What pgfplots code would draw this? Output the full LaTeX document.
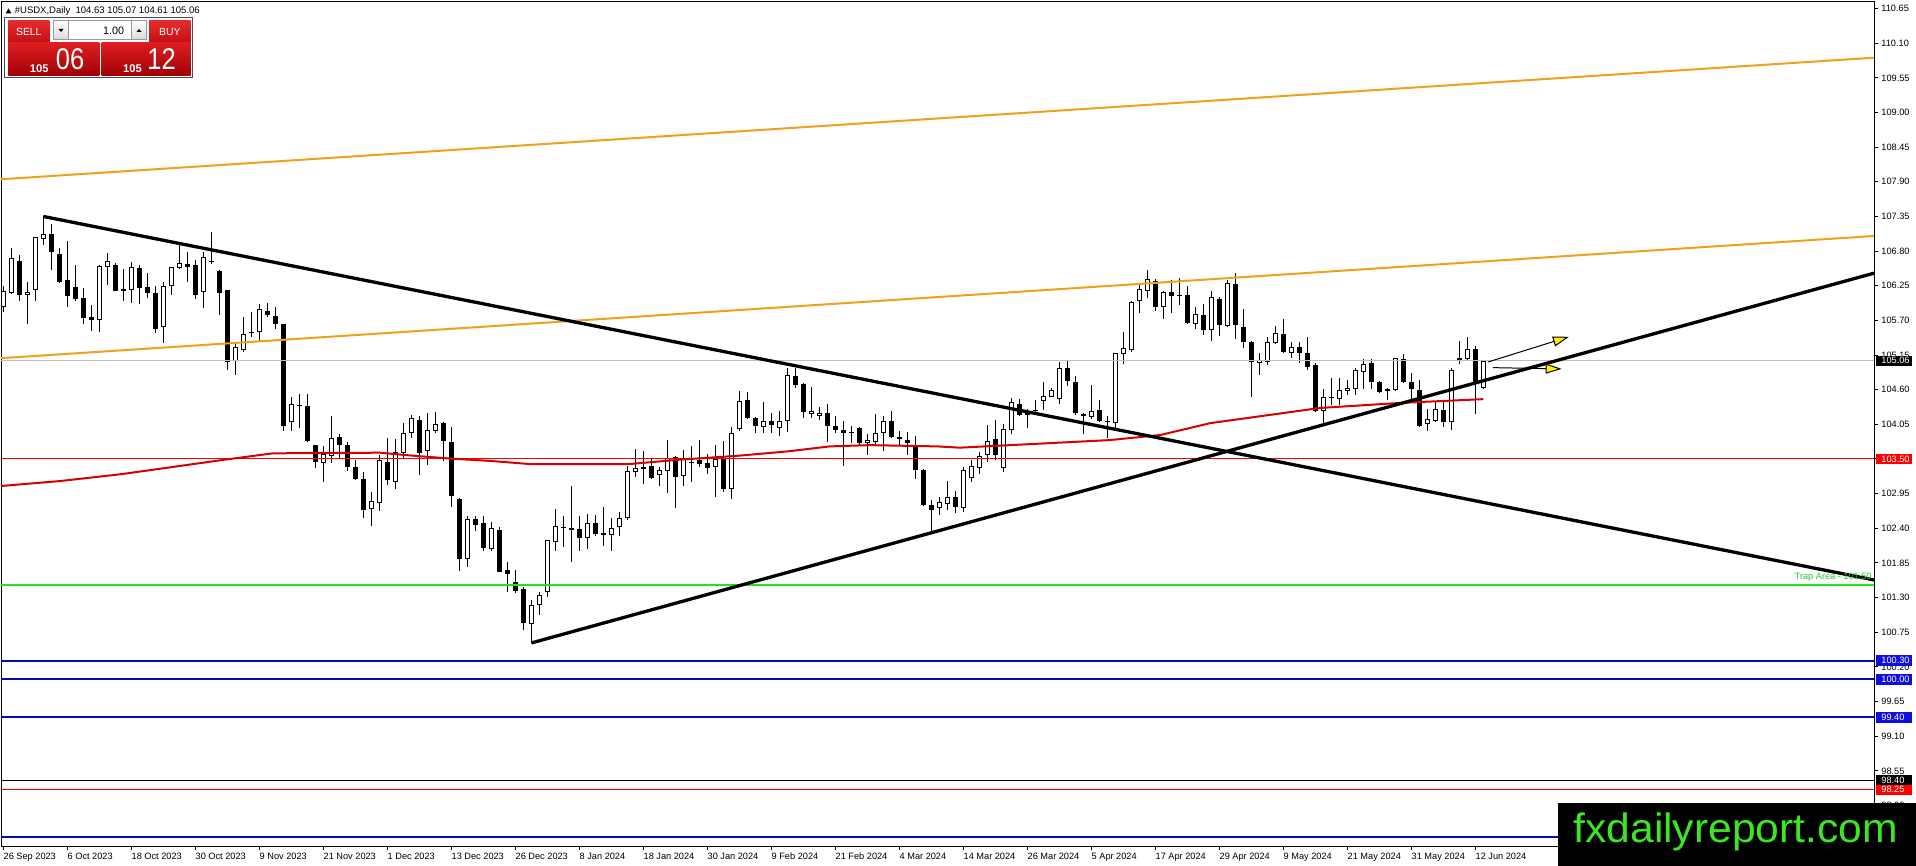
\documentclass[border=0pt]{standalone}
\usepackage{fontspec}
\setmainfont{Liberation Sans}
\usepackage{pgfplots}
\pgfplotsset{compat=1.18}
\usepackage{pgfplotstable}
\usetikzlibrary{arrows.meta}
\definecolor{mtorange}{RGB}{240,160,30}
\definecolor{mtma}{RGB}{215,0,0}
\definecolor{mtred}{RGB}{255,0,0}
\definecolor{mtblue}{RGB}{0,10,175}
\definecolor{boxblue}{RGB}{15,15,220}
\definecolor{mtgreen}{RGB}{30,230,30}
\definecolor{trapgreen}{RGB}{40,200,40}
\definecolor{logogreen}{RGB}{60,230,35}
\definecolor{bidgray}{RGB}{190,190,190}
\definecolor{btntop}{RGB}{228,45,45}
\definecolor{btnbot}{RGB}{195,15,20}
\definecolor{bigtop}{RGB}{222,30,32}
\definecolor{bigbot}{RGB}{160,0,8}
\newcommand\mtfont{\fontsize{4.6pt}{5pt}\selectfont}

\pgfplotstableread{
i o h l c
0 105.92 106.25 105.84 106.17
1 106.14 106.85 106.12 106.69
2 106.64 106.74 106.00 106.11
3 106.11 106.31 105.64 106.15
4 106.18 107.03 106.01 107.02
5 106.99 107.35 106.89 107.07
6 107.07 107.23 106.50 106.78
7 106.75 106.85 106.30 106.31
8 106.34 106.96 105.92 106.08
9 106.23 106.58 106.00 106.04
10 106.05 106.21 105.64 105.74
11 105.75 105.94 105.53 105.70
12 105.70 106.58 105.51 106.56
13 106.54 106.77 106.26 106.65
14 106.58 106.61 106.16 106.17
15 106.20 106.52 106.00 106.16
16 106.18 106.62 105.97 106.55
17 106.53 106.58 105.96 106.21
18 106.23 106.45 106.05 106.14
19 106.13 106.24 105.50 105.57
20 105.59 106.31 105.34 106.25
21 106.25 106.55 106.11 106.55
22 106.53 106.91 106.52 106.61
23 106.59 106.78 106.31 106.55
24 106.58 106.66 106.04 106.11
25 106.15 106.79 105.89 106.70
26 106.65 107.11 106.59 106.63
27 106.48 106.50 105.79 106.13
28 106.18 106.19 104.91 105.04
29 105.06 105.33 104.83 105.27
30 105.23 105.76 105.20 105.48
31 105.50 105.84 105.44 105.52
32 105.51 105.96 105.38 105.88
33 105.85 105.98 105.76 105.78
34 105.77 105.92 105.56 105.65
35 105.64 105.65 103.95 104.03
36 104.08 104.48 103.95 104.37
37 104.34 104.53 103.99 104.35
38 104.34 104.53 103.77 103.79
39 103.72 103.73 103.35 103.46
40 103.43 103.70 103.14 103.58
41 103.55 104.18 103.43 103.84
42 103.85 103.89 103.51 103.73
43 103.72 103.77 103.31 103.38
44 103.37 103.48 103.16 103.18
45 103.18 103.29 102.57 102.69
46 102.70 102.97 102.43 102.83
47 102.80 103.56 102.68 103.48
48 103.45 103.83 103.08 103.16
49 103.14 103.81 103.02 103.61
50 103.60 104.07 103.51 103.92
51 103.92 104.20 103.84 104.15
52 104.12 104.19 103.24 103.60
53 103.62 104.23 103.41 103.96
54 103.95 104.24 103.91 104.06
55 104.07 104.08 103.47 103.79
56 103.77 104.01 102.74 102.92
57 102.87 102.88 101.73 101.91
58 101.91 102.60 101.79 102.55
59 102.55 102.60 102.35 102.46
60 102.48 102.59 102.04 102.08
61 102.07 102.50 102.04 102.40
62 102.37 102.42 101.70 101.71
63 101.74 101.86 101.39 101.67
64 101.54 101.74 101.37 101.41
65 101.44 101.47 100.78 100.90
66 100.88 101.26 100.58 101.19
67 101.19 101.39 101.03 101.34
68 101.39 102.22 101.31 102.21
69 102.19 102.70 102.04 102.43
70 102.40 102.60 102.11 102.42
71 102.37 103.07 101.87 102.40
72 102.39 102.60 102.04 102.25
73 102.24 102.62 102.07 102.48
74 102.48 102.61 102.28 102.31
75 102.33 102.74 102.12 102.29
76 102.29 102.57 102.04 102.40
77 102.42 102.66 102.27 102.56
78 102.56 103.39 102.53 103.31
79 103.29 103.66 103.22 103.36
80 103.34 103.62 103.10 103.37
81 103.39 103.51 103.19 103.20
82 103.24 103.38 103.07 103.33
83 103.31 103.80 102.96 103.51
84 103.53 103.54 102.73 103.22
85 103.23 103.65 103.07 103.50
86 103.43 103.71 103.14 103.45
87 103.48 103.80 103.37 103.42
88 103.44 103.58 103.26 103.36
89 103.38 103.72 102.90 103.50
90 103.52 103.79 102.98 103.02
91 103.03 104.01 102.86 103.92
92 103.97 104.58 103.94 104.42
93 104.44 104.56 104.14 104.15
94 104.15 104.16 103.91 104.03
95 104.00 104.40 103.92 104.11
96 104.11 104.23 103.92 104.04
97 103.99 104.26 103.87 104.11
98 104.10 104.94 103.93 104.84
99 104.82 104.94 104.63 104.67
100 104.69 104.70 104.15 104.24
101 104.22 104.64 104.15 104.26
102 104.19 104.33 104.12 104.23
103 104.23 104.38 103.77 104.03
104 104.02 104.18 103.91 103.96
105 103.96 104.10 103.39 103.91
106 103.93 104.02 103.75 103.92
107 103.99 104.00 103.72 103.75
108 103.76 103.90 103.57 103.80
109 103.77 104.21 103.72 103.91
110 103.91 104.18 103.62 104.10
111 104.11 104.26 103.83 103.85
112 103.85 103.94 103.73 103.81
113 103.80 103.93 103.56 103.75
114 103.73 103.87 103.18 103.33
115 103.33 103.34 102.76 102.77
116 102.77 102.85 102.34 102.69
117 102.72 102.89 102.61 102.81
118 102.78 103.15 102.69 102.89
119 102.89 102.99 102.64 102.74
120 102.73 103.38 102.66 103.33
121 103.20 103.48 103.14 103.39
122 103.36 103.61 103.26 103.55
123 103.56 104.04 103.45 103.79
124 103.81 104.12 103.48 103.56
125 103.35 104.05 103.30 103.98
126 103.96 104.47 103.89 104.40
127 104.37 104.45 104.18 104.20
128 104.26 104.29 103.99 104.20
129 104.27 104.44 104.25 104.26
130 104.42 104.72 104.28 104.50
131 104.49 104.62 104.48 104.60
132 104.45 105.04 104.38 104.94
133 104.94 105.07 104.66 104.74
134 104.73 104.81 104.20 104.23
135 104.21 104.23 103.89 104.19
136 104.17 104.67 104.13 104.26
137 104.28 104.43 104.09 104.11
138 104.11 104.18 103.84 104.09
139 104.07 105.19 103.96 105.18
140 105.16 105.51 105.00 105.26
141 105.23 106.00 105.20 105.99
142 106.00 106.27 105.81 106.20
143 106.17 106.50 106.05 106.35
144 106.33 106.35 105.85 105.92
145 105.91 106.16 105.72 106.15
146 106.15 106.34 105.82 106.09
147 106.09 106.38 105.94 106.11
148 106.10 106.24 105.65 105.66
149 105.65 105.92 105.56 105.80
150 105.79 105.96 105.47 105.55
151 105.54 106.16 105.38 106.07
152 106.04 106.07 105.45 105.63
153 105.61 106.34 105.59 106.30
154 106.28 106.46 105.40 105.62
155 105.59 105.88 105.26 105.36
156 105.36 105.37 104.49 105.04
157 105.02 105.18 104.83 105.07
158 105.04 105.43 104.99 105.35
159 105.34 105.61 105.33 105.50
160 105.48 105.72 105.19 105.20
161 105.19 105.36 105.11 105.28
162 105.27 105.36 105.03 105.19
163 105.18 105.43 104.92 104.96
164 104.99 105.03 104.24 104.26
165 104.26 104.61 104.04 104.48
166 104.47 104.78 104.36 104.49
167 104.46 104.78 104.36 104.60
168 104.58 104.75 104.52 104.62
169 104.61 104.94 104.52 104.91
170 104.88 105.08 104.61 105.00
171 105.02 105.09 104.61 104.73
172 104.72 104.74 104.54 104.56
173 104.58 104.63 104.43 104.61
174 104.60 105.11 104.58 105.10
175 105.08 105.16 104.71 104.73
176 104.72 104.87 104.46 104.61
177 104.60 104.75 104.01 104.03
178 104.05 104.30 103.95 104.13
179 104.11 104.41 104.09 104.29
180 104.28 104.43 104.01 104.08
181 104.09 104.94 103.96 104.91
182 105.07 105.38 105.01 105.10
183 105.08 105.43 105.07 105.24
184 105.24 105.29 104.21 104.69
185 104.63 105.07 104.61 105.06
}\ohlc

\begin{document}
\begin{tikzpicture}
\useasboundingbox (0,0) rectangle (958pt,-433pt);
\fill[white] (0,0) rectangle (958pt,-433pt);
\begin{axis}[
  at={(0.5pt,-1pt)}, anchor=north west,
  width=936.5pt, height=422pt, scale only axis,
  xmin=-0.2875, xmax=233.84, ymin=97.357, ymax=110.754,
  axis line style={black, line width=0.5pt},
  tick align=outside, major tick length=2pt,
  tick style={black, line width=0.5pt},
  xtick pos=bottom, ytick pos=right, yticklabel pos=right,
  xtick={0,8,...,184},
  xticklabels={26 Sep 2023,6 Oct 2023,18 Oct 2023,30 Oct 2023,9 Nov 2023,21 Nov 2023,1 Dec 2023,13 Dec 2023,26 Dec 2023,8 Jan 2024,18 Jan 2024,30 Jan 2024,9 Feb 2024,21 Feb 2024,4 Mar 2024,14 Mar 2024,26 Mar 2024,5 Apr 2024,17 Apr 2024,29 Apr 2024,9 May 2024,21 May 2024,31 May 2024,12 Jun 2024},
  xticklabel style={font=\mtfont, anchor=north west, inner sep=0pt, text height=3.4pt, text depth=0.9pt, yshift=-1pt},
  ytick={97.45,98.00,98.55,99.10,99.65,100.20,100.75,101.30,101.85,102.40,102.95,103.50,104.05,104.60,105.15,105.70,106.25,106.80,107.35,107.90,108.45,109.00,109.55,110.10,110.65},
  scaled y ticks=false,
  yticklabel style={font=\mtfont, anchor=west, inner sep=0pt, xshift=1.5pt, /pgf/number format/.cd, fixed, fixed zerofill, precision=2, assume math mode=true},
  clip=true,
]
% wicks
\addplot[black, line width=0.5pt, line cap=butt, -, quiver={u=0, v={\thisrow{h}-\thisrow{l}}}]
  table[x=i, y=l] {\ohlc};
% bull outline (black)
\addplot[black, line width=2.5pt, line cap=butt, -, quiver={u=0, v={(\thisrow{c}>\thisrow{o})*max(\thisrow{c}-\thisrow{o},0.016)}}]
  table[x=i, y=o] {\ohlc};
% bull interior (white)
\addplot[white, line width=1.5pt, line cap=butt, -, quiver={u=0, v={max(\thisrow{c}-\thisrow{o}-0.0318,0)}}]
  table[x=i, y expr={\thisrow{o}+0.0159}] {\ohlc};
% bear bodies (black)
\addplot[black, line width=2.5pt, line cap=butt, -, quiver={u=0, v={(\thisrow{c}<\thisrow{o})*max(\thisrow{o}-\thisrow{c},0.016)}}]
  table[x=i, y=c] {\ohlc};

% horizontal levels
\addplot[bidgray, line width=0.5pt] coordinates {(-1,105.06) (240,105.06)};
\addplot[mtred, line width=0.5pt] coordinates {(-1,103.50) (240,103.50)};
\addplot[mtgreen, line width=0.9pt] coordinates {(-1,101.50) (240,101.50)};
\addplot[mtblue, line width=1pt] coordinates {(-1,100.30) (240,100.30)};
\addplot[mtblue, line width=1pt] coordinates {(-1,100.00) (240,100.00)};
\addplot[mtblue, line width=1pt] coordinates {(-1,99.40) (240,99.40)};
\addplot[black, line width=0.5pt] coordinates {(-1,98.40) (240,98.40)};
\addplot[mtred, line width=0.5pt] coordinates {(-1,98.25) (240,98.25)};
\addplot[mtblue, line width=1pt] coordinates {(-1,97.50) (240,97.50)};
% channel
\addplot[mtorange, line width=1pt] coordinates {(-0.2875,107.94) (233.84,109.87)};
\addplot[mtorange, line width=1pt] coordinates {(-0.2875,105.10) (233.84,107.04)};
% moving average
\addplot[mtma, line width=1pt] coordinates {(-0.41,103.07) (7.1,103.15) (14.8,103.26) (22.1,103.39) (27.7,103.49) (33.7,103.59) (47.1,103.60) (50.5,103.56) (55.5,103.51) (60.8,103.47) (65.8,103.42) (78.3,103.42) (84.6,103.49) (91.7,103.55) (98.0,103.62) (103.3,103.70) (108.3,103.72) (116.7,103.70) (119.6,103.68) (138.3,103.80) (144.6,103.88) (150.9,104.07) (164.6,104.31) (174.6,104.39) (185.0,104.45)};
% trend lines
\addplot[black, line width=1.65pt] coordinates {(5,107.35) (233.84,101.58)};
\addplot[black, line width=1.65pt] coordinates {(66,100.58) (233.84,106.45)};
% arrows
\draw[black, line width=0.5pt, -{Triangle[length=8pt,width=5pt,fill=yellow]}] (axis cs:185.6,105.04) -- (axis cs:195.7,105.44);
\draw[black, line width=0.5pt, -{Triangle[length=8pt,width=5pt,fill=yellow]}] (axis cs:186.2,104.95) -- (axis cs:194.8,104.93);
\end{axis}

\begin{scope}[x=0.5pt,y=-0.5pt]
% trap area text
\node[anchor=south east, inner sep=0pt, trapgreen, font=\mtfont] at (1872,582) {Trap Area - 101.50};
% price boxes on the axis
\foreach \yy/\col/\txt in {360.7/black/105.06, 459/mtred/103.50, 660.6/boxblue/100.30, 679.5/boxblue/100.00, 717.3/boxblue/99.40, 780.3/black/98.40, 789.8/mtred/98.25}{
  \fill[\col] (1875.5,\yy-5.2) rectangle (1912,\yy+5.2);
  \node[anchor=west, inner sep=0pt, white, font=\mtfont] at (1881,\yy) {\txt};
}
% logo
\fill[black] (1558,803) rectangle (1916,866);
\node[anchor=base west, inner sep=0pt, logogreen, font=\fontsize{20.5pt}{22pt}\selectfont] at (1573,842) {\scalebox{1.04}[1]{fxdailyreport.com}};
% one-click trading widget
\fill[black] (5.5,13.5) -- (11.5,13.5) -- (8.5,8.5) -- cycle;
\node[anchor=west, inner sep=0pt, font=\fontsize{4.75pt}{5pt}\selectfont] at (14.5,10.8) {\#USDX,Daily\ \ 104.63 105.07 104.61 105.06};
\draw[black!70, line width=0.5pt] (4,17.5) rectangle (192.5,77.3);
\shade[top color=btntop, bottom color=btnbot] (8.3,20.7) rectangle (49.3,42.3);
\node[white, font=\fontsize{5.2pt}{6pt}\selectfont] at (28.8,31.5) {SELL};
\shade[top color=btntop, bottom color=btnbot] (149,20.7) rectangle (190.7,42.3);
\node[white, font=\fontsize{5.2pt}{6pt}\selectfont] at (169.8,31.5) {BUY};
\fill[white] (53.3,20.7) rectangle (146.7,40);
\shade[top color=white, bottom color=black!15] (53.3,20.7) rectangle (68.3,40);
\shade[top color=white, bottom color=black!15] (131.7,20.7) rectangle (146.7,40);
\draw[black!40, line width=0.5pt] (53.3,20.7) rectangle (146.7,40);
\draw[black!40, line width=0.5pt] (68.3,20.7) -- (68.3,40) (131.7,20.7) -- (131.7,40);
\fill[black] (58.5,29) -- (63.5,29) -- (61,32) -- cycle;
\fill[black] (136.5,32) -- (141.5,32) -- (139,29) -- cycle;
\node[anchor=east, inner sep=0pt, font=\fontsize{5.4pt}{6pt}\selectfont] at (124.5,30.5) {1.00};
\shade[top color=bigtop, bottom color=bigbot] (8.3,42.7) rectangle (99.3,76);
\shade[top color=bigtop, bottom color=bigbot] (101.7,42.7) rectangle (190.7,76);
\node[anchor=base west, inner sep=0pt, white, font=\bfseries\fontsize{5.6pt}{6pt}\selectfont] at (29.5,72.7) {105};
\node[anchor=base west, inner sep=0pt, white, font=\fontsize{15pt}{16pt}\selectfont] at (55.5,70) {\scalebox{0.85}[1]{06}};
\node[anchor=base west, inner sep=0pt, white, font=\bfseries\fontsize{5.6pt}{6pt}\selectfont] at (122.8,72.7) {105};
\node[anchor=base west, inner sep=0pt, white, font=\fontsize{15pt}{16pt}\selectfont] at (147,70) {\scalebox{0.85}[1]{12}};
\end{scope}
\end{tikzpicture}
\end{document}
